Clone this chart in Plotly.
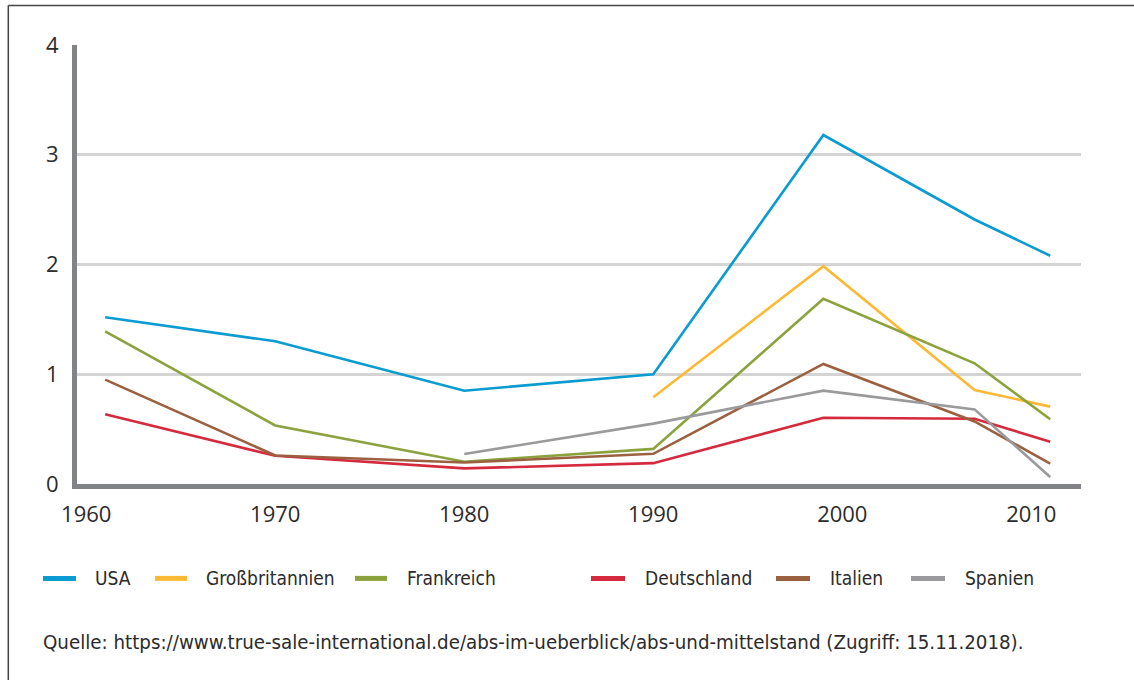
import plotly.graph_objects as go

# ---- data ----
years = [1961, 1970, 1980, 1990, 1999, 2007, 2011]
usa = [1.52, 1.30, 0.85, 1.00, 3.18, 2.41, 2.08]
gross_britannien = [None, None, None, 0.79, 1.985, 0.857, 0.705]
frankreich = [1.39, 0.533, 0.203, 0.32, 1.687, 1.10, 0.59]
deutschland = [0.636, 0.257, 0.142, 0.19, 0.603, 0.594, 0.385]
italien = [0.951, 0.26, 0.196, 0.275, 1.094, 0.57, 0.185]
spanien = [None, None, 0.273, 0.55, 0.851, 0.68, 0.064]

series_names = ["USA", "Großbritannien", "Frankreich", "Deutschland", "Italien", "Spanien"]
series_values = [usa, gross_britannien, frankreich, deutschland, italien, spanien]
series_colors = ["#0a9bd0", "#fdb933", "#8ca23e", "#d52a3e", "#9b6040", "#9a9a9d"]
x_ticks = [1960, 1970, 1980, 1990, 2000, 2010]
y_ticks = [0, 1, 2, 3, 4]
source_text = "Quelle: https://www.true-sale-international.de/abs-im-ueberblick/abs-und-mittelstand (Zugriff: 15.11.2018)."

# ---- layout geometry (pixels) ----
W, H = 1134, 680
L, R = 77, 1081
T, B = 45, 484.5
PW, PH = R - L, B - T


def px_x(px):
    return (px - L) / PW


def px_y(py):
    return (B - py) / PH


cond_font = "DejaVu Sans Condensed, Liberation Sans Narrow, sans-serif"
tick_font = dict(family="Open Sans, Noto Sans, sans-serif", size=22, color="#2b2b2b")

fig = go.Figure()
for name, vals, col in zip(series_names, series_values, series_colors):
    fig.add_trace(go.Scatter(x=years, y=vals, mode="lines", name=name,
                             line=dict(color=col, width=2.6), connectgaps=False,
                             showlegend=False))

shapes = []
annotations = []
# frame
shapes.append(dict(type="line", xref="paper", yref="paper",
                   x0=px_x(8.3), x1=px_x(8.3), y0=px_y(5.5), y1=px_y(700),
                   line=dict(color="#444444", width=1.5)))
shapes.append(dict(type="line", xref="paper", yref="paper",
                   x0=px_x(8.3), x1=px_x(1140), y0=px_y(5.5), y1=px_y(5.5),
                   line=dict(color="#444444", width=1.5)))

# manual legend
leg_line_x = [(41, 78), (153, 189), (353, 389), (589, 627), (774, 812), (909, 947)]
leg_text_x = [93, 204, 405, 643, 828, 963]
leg_y = 579
for name, col, (a, b), tx in zip(series_names, series_colors, leg_line_x, leg_text_x):
    shapes.append(dict(type="line", xref="paper", yref="paper",
                       x0=px_x(a + 2), x1=px_x(b - 2), y0=px_y(leg_y), y1=px_y(leg_y),
                       line=dict(color=col, width=5)))
    annotations.append(dict(text=name, xref="paper", yref="paper",
                            x=px_x(tx), y=px_y(leg_y), xanchor="left", yanchor="middle",
                            showarrow=False, font=dict(family=cond_font, size=19, color="#2b2b2b")))

annotations.append(dict(text=source_text, xref="paper", yref="paper",
                        x=px_x(41), y=px_y(643), xanchor="left", yanchor="middle",
                        showarrow=False, font=dict(family=cond_font, size=20.3, color="#2b2b2b")))

fig.update_layout(
    width=W, height=H,
    margin=dict(l=L, r=W - R, t=T, b=H - B, pad=0),
    paper_bgcolor="white", plot_bgcolor="white",
    showlegend=False,
    shapes=shapes, annotations=annotations,
    xaxis=dict(range=[1959.51, 2012.63], tickvals=x_ticks, ticktext=[str(v) for v in x_ticks],
               showgrid=False, zeroline=False, showline=True, linecolor="#828387", linewidth=5,
               ticks="", tickfont=tick_font, ticklabelstandoff=7),
    yaxis=dict(range=[0, 4], tickvals=y_ticks, ticktext=[str(v) for v in y_ticks],
               showgrid=True, gridcolor="#d4d4d4", gridwidth=2.5, zeroline=False,
               showline=True, linecolor="#828387", linewidth=5,
               ticks="", tickfont=tick_font, ticklabelstandoff=9),
)

fig.write_html("out.html")
